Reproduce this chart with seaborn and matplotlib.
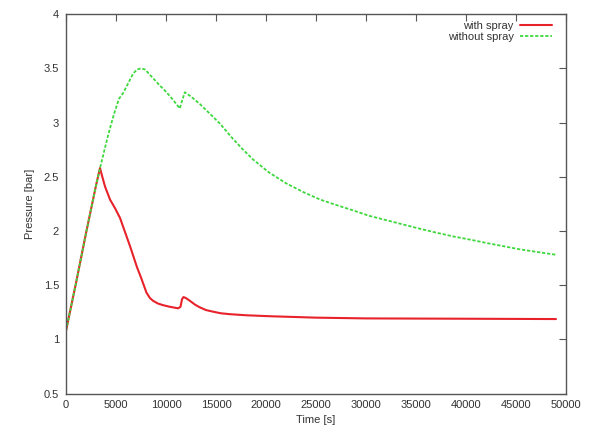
import pandas as pd
import matplotlib
matplotlib.use("Agg")
import matplotlib.pyplot as plt
from matplotlib.ticker import FuncFormatter
import seaborn as sns

# values
spray_time = [0, 1000, 2000, 3000, 3400, 3600, 3900, 4400, 4900, 5400, 5900, 6400,
              7080, 7500, 8050, 8400, 8710, 9200, 9710, 10400, 11210, 11450, 11600,
              11750, 12000, 12380, 12900, 13380, 14000, 14710, 15500, 16390, 18000,
              20400, 25000, 30000, 40000, 49000]
spray_pressure = [1.08, 1.52, 1.98, 2.42, 2.58, 2.51, 2.41, 2.29, 2.21, 2.12, 1.99, 1.86,
                  1.67, 1.57, 1.43, 1.38, 1.355, 1.33, 1.315, 1.30, 1.286, 1.30, 1.37,
                  1.39, 1.38, 1.356, 1.32, 1.295, 1.27, 1.255, 1.24, 1.232, 1.222,
                  1.213, 1.20, 1.193, 1.19, 1.187]

nospray_time = [0, 1000, 2000, 3000, 3400, 4200, 4800, 5300, 5700, 6200, 6700, 7100,
                7500, 7900, 8300, 8600, 9300, 10050, 10700, 11380, 11600, 11880, 12500,
                13400, 14400, 15400, 16500, 17600, 18700, 20300, 22000, 23700, 25400,
                27000, 28700, 30300, 32000, 33700, 35400, 37000, 38700, 40400, 42000,
                43700, 45400, 47200, 49000]
nospray_pressure = [1.08, 1.52, 1.98, 2.42, 2.58, 2.88, 3.08, 3.22, 3.27, 3.36, 3.45, 3.49,
                    3.50, 3.49, 3.45, 3.42, 3.35, 3.28, 3.21, 3.13, 3.20, 3.28, 3.24,
                    3.17, 3.08, 2.99, 2.87, 2.76, 2.66, 2.54, 2.44, 2.36, 2.29,
                    2.24, 2.19, 2.14, 2.10, 2.06, 2.02, 1.985, 1.95, 1.92, 1.89,
                    1.86, 1.83, 1.805, 1.78]

x_ticks = [0, 5000, 10000, 15000, 20000, 25000, 30000, 35000, 40000, 45000, 50000]
y_ticks = [0.5, 1, 1.5, 2, 2.5, 3, 3.5, 4]

sns.set_style("white")
plt.rcParams["font.family"] = ["Liberation Sans", "DejaVu Sans"]

spray = pd.DataFrame({"time": spray_time, "pressure": spray_pressure})
nospray = pd.DataFrame({"time": nospray_time, "pressure": nospray_pressure})

fig = plt.figure(figsize=(5.91, 4.33), dpi=100)
ax = fig.add_axes([0.1117, 0.0912, 0.846, 0.876])

sns.lineplot(data=spray, x="time", y="pressure", ax=ax, color="#e8222a",
             linewidth=1.5, label="with spray")
sns.lineplot(data=nospray, x="time", y="pressure", ax=ax, color="#3ed83e",
             linewidth=1.3, label="without spray")
ax.lines[1].set_dashes([1.8, 1.0])

ax.set_xlim(0, 50000)
ax.set_ylim(0.5, 4)
ax.set_xticks(x_ticks)
ax.set_yticks(y_ticks)
ax.yaxis.set_major_formatter(FuncFormatter(lambda v, p: "%g" % v))
ax.tick_params(direction="in", length=5, width=0.8, color="#555555",
               labelsize=8, labelcolor="#333333", top=True, right=True, pad=5)
for s in ax.spines.values():
    s.set_color("#555555")
    s.set_linewidth(1.0)

ax.set_xlabel("Time [s]", fontsize=8, color="#333333", labelpad=3)
ax.set_ylabel("Pressure [bar]", fontsize=8, color="#333333", labelpad=6)

leg = ax.legend(loc="upper right", bbox_to_anchor=(0.972, 0.982), frameon=False,
                markerfirst=False, fontsize=8, handlelength=2.85, handletextpad=0.6,
                labelspacing=0.12, borderaxespad=0, borderpad=0)
for t in leg.get_texts():
    t.set_color("#333333")

fig.savefig("out.png", dpi=100)
